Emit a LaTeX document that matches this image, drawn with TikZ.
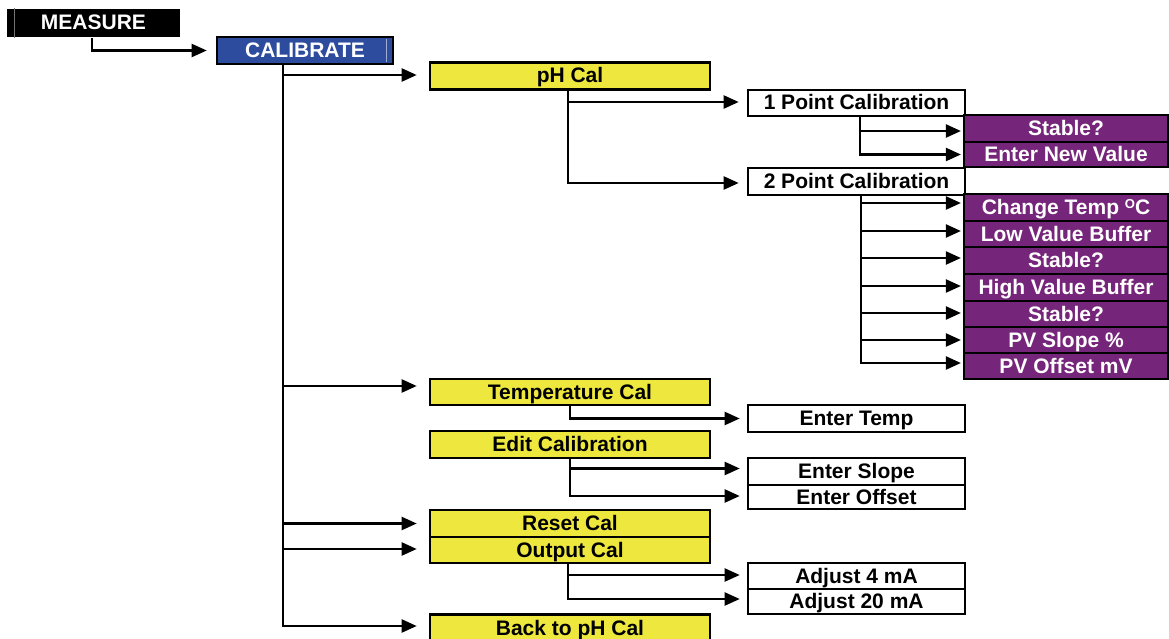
\documentclass[tikz,border=0pt]{standalone}
\usepackage{fontspec}
\setmainfont{Liberation Sans}
\usepackage{xcolor}
\definecolor{mnblue}{RGB}{46,76,158}
\definecolor{mnyellow}{RGB}{238,232,62}
\definecolor{mnpurple}{RGB}{118,38,122}
\usetikzlibrary{arrows.meta, positioning}

\begin{document}
\begin{tikzpicture}[x=1pt, y=-1pt,
  box/.style={draw=black, line width=2.6pt, inner sep=0pt, text height=15pt, text depth=1pt,
              font=\fontsize{21}{22}\selectfont\bfseries},
  ybox/.style={box, fill=mnyellow, minimum width=280pt, minimum height=27pt},
  wbox/.style={box, fill=white, minimum width=217pt, minimum height=26pt},
  pbox/.style={box, fill=mnpurple, text=white, line width=2.2pt, minimum width=204pt, minimum height=26.5pt},
  conn/.style={line width=2.2pt},
  arr/.style={conn, -{Triangle[length=15pt,width=13pt]}}]
  \useasboundingbox (0,0) rectangle (1169,639);

  % --- Top level ---
  \node[box, draw=none, fill=black, text=white, minimum width=173pt, minimum height=28pt] (measure) at (93.5,23) {MEASURE};
  \draw[black!55, line width=0.8pt] ([xshift=9pt]measure.north west) -- ([xshift=9pt]measure.south west);
  \node[box, fill=mnblue, text=white, minimum width=176pt, minimum height=27pt] (calibrate) at (305,50.5) {CALIBRATE};
  \draw[mnblue!45!white, line width=0.8pt] ([xshift=-8pt,yshift=-3pt]calibrate.north east) -- ([xshift=-8pt,yshift=3pt]calibrate.south east);
  \draw[arr, shorten >=9pt] ([xshift=-1.5pt]measure.south) |- (calibrate.west);

  % --- Calibrate menu (yellow) ---
  \node[ybox] (phcal)     at (570,76)    {pH Cal};
  \node[ybox, minimum height=26pt] (tempcal) at (570,392) {Temperature Cal};
  \node[ybox] (editcal)   at (570,444.5) {Edit Calibration};
  \node[ybox] (resetcal)  at (570,523.5) {Reset Cal};
  \node[ybox, minimum height=26pt] (outputcal) at (570,550) {Output Cal};
  \node[ybox] (backcal)   at (570,628)   {Back to pH Cal};

  \coordinate (caltrunk) at ([xshift=67pt]calibrate.south west);
  \draw[arr, shorten >=12pt] (caltrunk) |- ([yshift=1pt]phcal.west);
  \draw[arr, shorten >=12pt] (caltrunk) |- ([yshift=6pt]tempcal.west);
  \draw[arr, shorten >=12pt] (caltrunk) |- (resetcal.west);
  \draw[arr, shorten >=12pt] (caltrunk) |- ([yshift=1pt]outputcal.west);
  \draw[arr, shorten >=12pt] (caltrunk) |- ([yshift=2pt]backcal.west);

  % --- pH Cal ---
  \node[wbox] (pt1) at (856.5,103)   {1 Point Calibration};
  \node[wbox, minimum height=27pt] (pt2) at (856.5,181.5) {2 Point Calibration};
  \draw[arr, shorten >=8pt] ([xshift=-2pt]phcal.south) |- ([yshift=1pt]pt1.west);
  \draw[arr, shorten >=8pt] ([xshift=-2pt]phcal.south) |- ([yshift=-1.5pt]pt2.west);

  % 1 point
  \node[pbox, minimum height=27pt] (stable1) at (1066,128.5) {Stable?};
  \node[pbox, minimum height=25pt] (newval)  at (1066,154.5) {Enter New Value};
  \draw[arr, shorten >=2pt] ([xshift=113pt]pt1.south west) |- ([yshift=-2.5pt]stable1.west);
  \draw[arr, shorten >=2pt] ([xshift=113pt]pt1.south west) |- (newval.west);

  % 2 point
  \node[pbox, minimum height=27pt] (chtemp)  at (1066,207.5) {Change Temp \raisebox{0.55ex}{\fontsize{13}{13}\selectfont O}C};
  \node[pbox] (lowbuf)  at (1066,234)   {Low Value Buffer};
  \node[pbox, minimum height=27pt] (stable2) at (1066,260.5) {Stable?};
  \node[pbox, minimum height=27pt] (highbuf) at (1066,287.5) {High Value Buffer};
  \node[pbox] (stable3) at (1066,314)   {Stable?};
  \node[pbox] (pvslope) at (1066,340)   {PV Slope \%};
  \node[pbox] (pvoff)   at (1066,366)   {PV Offset mV};
  \coordinate (pt2trunk) at ([xshift=114pt]pt2.south west);
  \draw[arr, shorten >=2pt] (pt2trunk) |- ([yshift=4.5pt]chtemp.west);
  \draw[arr, shorten >=2pt] (pt2trunk) |- ([yshift=3pt]lowbuf.west);
  \draw[arr, shorten >=2pt] (pt2trunk) |- ([yshift=2.5pt]stable2.west);
  \draw[arr, shorten >=2pt] (pt2trunk) |- ([yshift=1.5pt]highbuf.west);
  \draw[arr, shorten >=2pt] (pt2trunk) |- ([yshift=1pt]stable3.west);
  \draw[arr, shorten >=2pt] (pt2trunk) |- (pvslope.west);
  \draw[arr, shorten >=2pt] (pt2trunk) |- ([yshift=3pt]pvoff.west);

  % --- Temperature / Edit / Output ---
  \node[wbox, minimum height=27pt] (entertemp) at (856.5,418.5) {Enter Temp};
  \node[wbox, minimum height=27pt] (enterslope) at (856.5,471.5) {Enter Slope};
  \node[wbox, minimum height=24pt] (enteroff)   at (856.5,497)   {Enter Offset};
  \node[wbox] (adj4)  at (856.5,576)   {Adjust 4 mA};
  \node[wbox, minimum height=25pt] (adj20) at (856.5,601.5) {Adjust 20 mA};

  \draw[arr, shorten >=7pt] (tempcal.south) |- (entertemp.west);
  \draw[arr, shorten >=7pt] (editcal.south) |- ([yshift=3pt]enterslope.west);
  \draw[arr, shorten >=7pt] (editcal.south) |- ([yshift=1pt]enteroff.west);
  \draw[arr, shorten >=7pt] ([xshift=-2pt]outputcal.south) |- ([yshift=1pt]adj4.west);
  \draw[arr, shorten >=7pt] ([xshift=-2pt]outputcal.south) |- ([yshift=2.5pt]adj20.west);
\end{tikzpicture}
\end{document}
